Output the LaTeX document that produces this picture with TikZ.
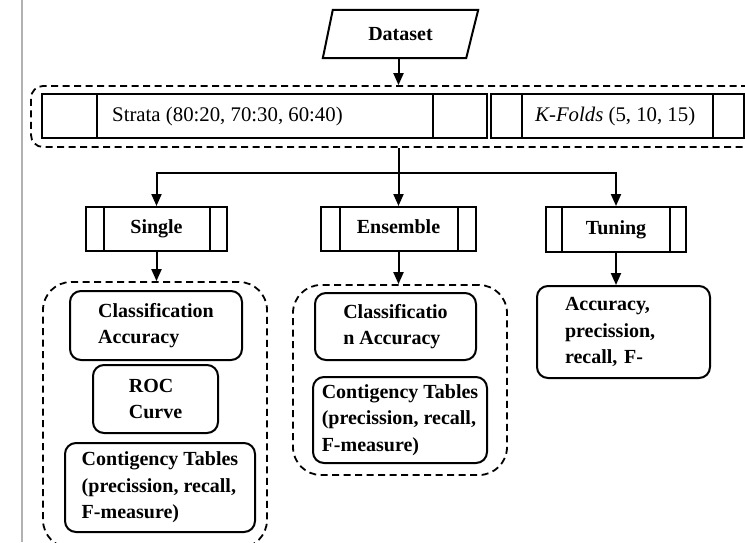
\documentclass[tikz,border=0pt]{standalone}
\usepackage{fontspec}
\setmainfont{Liberation Serif}
\usetikzlibrary{arrows.meta}
\begin{document}
\begin{tikzpicture}[x=1pt,y=-1pt,
  every node/.style={font=\fontsize{20}{26.5}\selectfont},
  box/.style={draw, line width=2pt, inner sep=0pt},
  rbox/.style={box, rounded corners=11, align=left, font=\fontsize{20}{26.5}\selectfont\bfseries},
  grp/.style={draw, line width=1.8pt, dash pattern=on 7pt off 4.5pt, rounded corners=28, inner sep=0pt},
  hdr/.style={box, text height=13.5pt, text depth=4.5pt, font=\fontsize{20}{24}\selectfont\bfseries},
  plain/.style={anchor=west, inner sep=0pt, font=\fontsize{20.8}{24}\selectfont},
  arr/.style={line width=2pt, -{Triangle[length=12pt,width=10pt]}},
  ln/.style={line width=2pt}]
\useasboundingbox (0,0) rectangle (745,542);
\clip (0,0) rectangle (745,542);

% left margin rule
\draw[gray!60, line width=1.5pt] (22,0) -- (22,542);

% Dataset
\node[minimum width=155, minimum height=48, inner sep=0pt, font=\fontsize{20}{24}\selectfont\bfseries] (dataset) at (400.5,34) {Dataset};
\draw[ln] ([xshift=10]dataset.north west) -- (dataset.north east) -- ([xshift=-12]dataset.south east) -- (dataset.south west) -- cycle;

% split group
\node[grp, rounded corners=12, minimum width=729, minimum height=61] (split) at (395.5,116.5) {};
\node[box, minimum width=445, minimum height=44] (strata) at (264.5,116) {};
\draw[ln] ([xshift=56]strata.north west) -- ([xshift=56]strata.south west);
\draw[ln] ([xshift=-55]strata.north east) -- ([xshift=-55]strata.south east);
\node[plain] (stratatext) at (112,116) {Strata (80:20, 70:30, 60:40)};
\node[box, minimum width=253, minimum height=44] (kfolds) at (617.5,116) {};
\draw[ln] ([xshift=32]kfolds.north west) -- ([xshift=32]kfolds.south west);
\draw[ln] ([xshift=-32]kfolds.north east) -- ([xshift=-32]kfolds.south east);
\node[plain] (kfoldstext) at (535,116) {\textit{K-Folds} (5, 10, 15)};

% headers
\node[hdr, minimum width=141, minimum height=44] (single) at (156.5,229) {Single};
\draw[ln] ([xshift=19]single.north west) -- ([xshift=19]single.south west);
\draw[ln] ([xshift=-18]single.north east) -- ([xshift=-18]single.south east);
\node[hdr, minimum width=155, minimum height=44] (ensemble) at (398.5,229) {Ensemble};
\draw[ln] ([xshift=20]ensemble.north west) -- ([xshift=20]ensemble.south west);
\draw[ln] ([xshift=-19]ensemble.north east) -- ([xshift=-19]ensemble.south east);
\node[hdr, minimum width=140, minimum height=45] (tuning) at (616,229.5) {Tuning};
\draw[ln] ([xshift=17]tuning.north west) -- ([xshift=17]tuning.south west);
\draw[ln] ([xshift=-17]tuning.north east) -- ([xshift=-17]tuning.south east);

% groups
\node[grp, minimum width=224, minimum height=266] (singlegrp) at (155,415) {};
\node[grp, minimum width=214, minimum height=190] (ensgrp) at (400,380) {};

% result boxes
\node[rbox, minimum width=172, minimum height=69] (sca) at (156,325.5) {Classification\\Accuracy};
\node[rbox, minimum width=125, minimum height=68] (roc) at (155.5,399) {ROC\\Curve};
\node[rbox, minimum width=190, minimum height=89] (sct) at (160,487.5) {Contigency Tables\\(precission, recall,\\F-measure)};
\node[rbox, minimum width=161, minimum height=67] (eca) at (395.5,326.5) {Classificatio\\n Accuracy};
\node[rbox, minimum width=174, minimum height=86] (ect) at (400,420) {Contigency Tables\\(precission, recall,\\F-measure)};
\node[rbox, text width=117, inner xsep=28, minimum height=92] (tres) at (623.5,332) {Accuracy,\\precission,\\recall, F-};

% connectors
\draw[arr] (dataset.south -| ensemble.north) -- (split.north -| ensemble.north);
\draw[arr] (split.south -| ensemble.north) -- (ensemble.north);
\coordinate (bar) at (398.5,173);
\draw[arr] (bar) -| (single.north);
\draw[arr] (bar) -| (tuning.north);
\draw[arr] (single.south) -- (single.south |- singlegrp.north);
\draw[arr] (ensemble.south) -- (ensemble.south |- ensgrp.north);
\draw[arr] (tuning.south) -- (tuning.south |- tres.north);
\end{tikzpicture}
\end{document}
